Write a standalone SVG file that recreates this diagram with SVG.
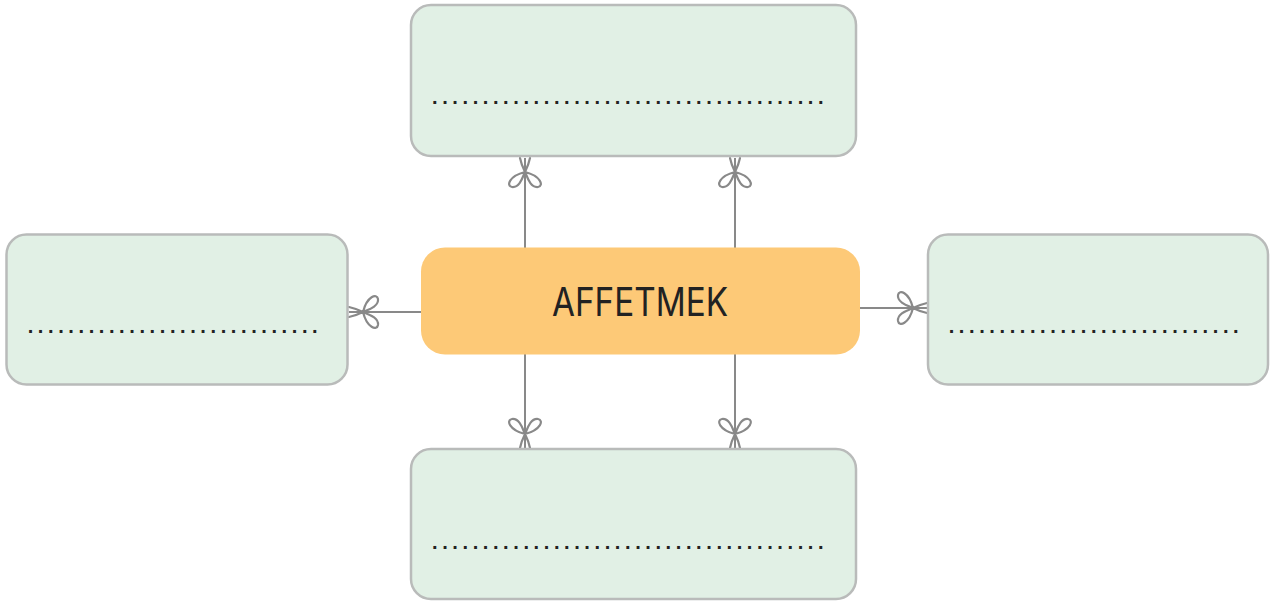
<svg xmlns="http://www.w3.org/2000/svg" width="1281" height="601" viewBox="0 0 1281 601">
<defs>
<style>
.box{fill:#e1f0e5;stroke:#b9bbba;stroke-width:2.5}
.center{fill:#fdc977}
.dots{font-family:"Liberation Sans",Arial,sans-serif;font-weight:bold;font-size:20px;fill:#222;letter-spacing:4.6px}
.title{font-family:"Inter","Liberation Sans",sans-serif;font-weight:400;font-size:40px;fill:#222}
.conn{stroke:#898989;stroke-width:2;fill:none}
</style>
<marker id="bow" markerUnits="userSpaceOnUse" markerWidth="40" markerHeight="40" viewBox="-34 -20 40 40" refX="0" refY="0" orient="auto" overflow="visible">
<path d="M0,-5 C-5,-4 -10,-2 -14,0 C-18,2 -30,5 -29,13 C-28,19 -18,16 -14,0 C-18,-16 -28,-19 -29,-13 C-30,-5 -18,-2 -14,0 C-10,2 -5,4 0,5" fill="none" stroke="#898989" stroke-width="2.2" stroke-linecap="round" stroke-linejoin="round"/>
</marker>
</defs>
<rect width="1281" height="601" fill="#ffffff"/>
<g id="connectors">
<line class="conn" x1="525" y1="250" x2="525" y2="158" marker-end="url(#bow)"/>
<line class="conn" x1="735" y1="250" x2="735" y2="158" marker-end="url(#bow)"/>
<line class="conn" x1="525" y1="354" x2="525" y2="448" marker-end="url(#bow)"/>
<line class="conn" x1="735" y1="354" x2="735" y2="448" marker-end="url(#bow)"/>
<line class="conn" x1="422" y1="312" x2="349" y2="312" marker-end="url(#bow)"/>
<line class="conn" x1="859" y1="308" x2="927" y2="308" marker-end="url(#bow)"/>
</g>
<g id="node-top">
<rect class="box" x="411" y="5" width="445" height="151" rx="20"/>
<text class="dots" x="432" y="104.3">.......................................</text>
</g>
<g id="node-left">
<rect class="box" x="6.5" y="234.5" width="341" height="150" rx="20"/>
<text class="dots" x="27.7" y="333.3">.............................</text>
</g>
<g id="node-right">
<rect class="box" x="928" y="234.5" width="340" height="150" rx="20"/>
<text class="dots" x="948.7" y="333.3">.............................</text>
</g>
<g id="node-bottom">
<rect class="box" x="411" y="449" width="445" height="150" rx="20"/>
<text class="dots" x="432" y="548.6">.......................................</text>
</g>
<g id="node-center">
<rect class="center" x="421" y="247.5" width="439" height="107" rx="24"/>
<text class="title" x="552" y="316" textLength="176" lengthAdjust="spacingAndGlyphs">AFFETMEK</text>
</g>
</svg>
